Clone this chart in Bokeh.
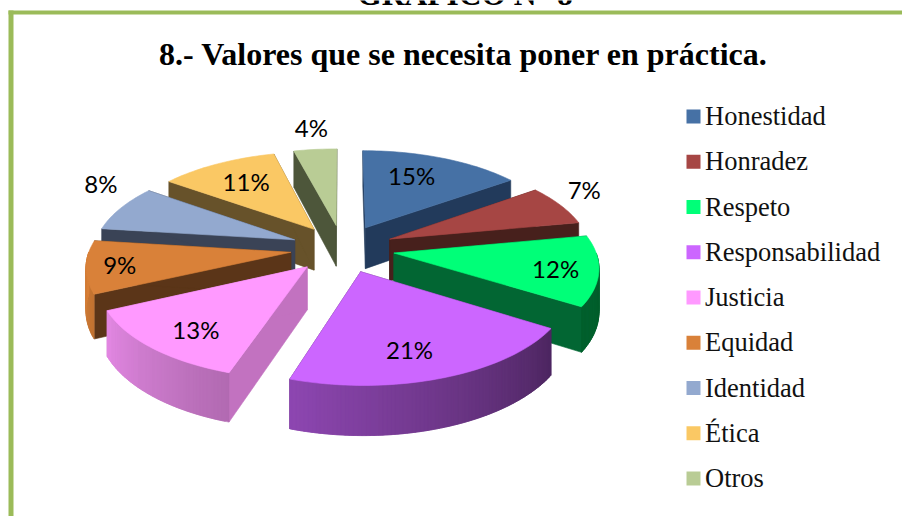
import math
from bokeh.plotting import figure
from bokeh.models import Range1d, ColumnDataSource
from bokeh.core.properties import value
from bokeh.embed import file_html
from bokeh.resources import INLINE

# ---- data ----
HEADING = "GRÁFICO N° 8"
TITLE = "8.- Valores que se necesita poner en práctica."
NAMES = ["Honestidad", "Honradez", "Respeto", "Responsabilidad", "Justicia",
         "Equidad", "Identidad", "Ética", "Otros"]
VALUES = [15, 7, 12, 21, 13, 9, 8, 11, 4]

# ---- styles ----
TOP_COLORS = ["#4671A5", "#A64644", "#00FF78", "#CC66FF", "#FF99FF",
              "#D98139", "#93A9CF", "#FAC864", "#B9CC95"]
WALL_COLORS = ["#223A5B", "#47201C", "#026633", "#4E2A66", "#C272C0",
               "#5B3518", "#3A4356", "#67522A", "#4D563A"]
DRAW_ORDER = [7, 8, 6, 5, 0, 1, 2, 4, 3]
LABEL_FRACTION = [0.69, 1.22, 0.79, 0.73, 0.745, 0.81, 1.24, 0.68, 1.31]
LABEL_TURN = [-3.6, -5.5, 1.0, 3.0, -3.0, 0.0, 10.7, 1.9, 1.2]

W, H = 902, 516
CX, CY = 342.0, 248.0
RADIUS, LABEL_RADIUS, EXPLODE, THICK = 201.0, 205.0, 52.0, 42.0
TILT, DEPTH = 0.4590, 1540.0
LABEL_NUDGE = -2.5
GREEN = "#9BBB59"


def project(theta, r, mid):
    a, m = math.radians(theta), math.radians(mid)
    x = r * math.sin(a) + EXPLODE * math.sin(m)
    z = r * math.cos(a) + EXPLODE * math.cos(m)
    s = 1.0 / (1.0 + z / DEPTH)
    return CX + x * s, CY - TILT * z * s, s


def shade(color, f):
    rgb = [int(color[i:i + 2], 16) for i in (1, 3, 5)]
    return "#%02x%02x%02x" % tuple(min(255, int(c * f)) for c in rgb)


def outer_factor(theta):
    return min(1.0, max(0.38, 0.38 + (theta - 122.0) * 0.62 / 148.0))


total = float(sum(VALUES))
starts, acc = [], 0.0
for v in VALUES:
    starts.append(acc / total * 360.0)
    acc += v
ends = [s + v / total * 360.0 for s, v in zip(starts, VALUES)]

xs, ys, cols = [], [], []


def add(px, py, c):
    xs.append(px)
    ys.append(py)
    cols.append(c)


for i in DRAW_ORDER:
    a0, a1 = starts[i], ends[i]
    mid = (a0 + a1) / 2.0
    ax, ay, asc = project(0, 0, mid)
    # cut faces
    for t in (a0, a1):
        px, py, ps = project(t, RADIUS, mid)
        add([ax, px, px, ax], [ay, py, py + THICK * ps, ay + THICK * asc], WALL_COLORS[i])
    # outer wall: overlapping shaded strips, each running a little under the next
    lo, hi = max(a0, 90.0), min(a1, 270.0)
    t = lo
    while t < hi:
        t2 = min(t + 1.0, hi)
        t3 = min(t + 2.0, hi)
        pts = [project(t + (t3 - t) * j / 3.0, RADIUS, mid) for j in range(4)]
        add([q[0] for q in pts] + [q[0] for q in reversed(pts)],
            [q[1] for q in pts] + [q[1] + THICK * q[2] for q in reversed(pts)],
            shade(TOP_COLORS[i], outer_factor(t)))
        t = t2
    # top
    n = max(2, int((a1 - a0) / 1.5))
    pts = [project(a0 + (a1 - a0) * j / n, RADIUS, mid) for j in range(n + 1)]
    add([ax] + [q[0] for q in pts], [ay] + [q[1] for q in pts], TOP_COLORS[i])

p = figure(width=W, height=H, x_range=Range1d(0, W), y_range=Range1d(H, 0),
           output_backend="svg", toolbar_location=None, min_border=0,
           outline_line_color=None, background_fill_color="white")
p.axis.visible = False
p.grid.visible = False
p.styles = {"position": "absolute", "left": "0px", "top": "0px"}

# frame
p.quad(left=[8, 8], right=[W, 13], top=[10, 10], bottom=[14, H], fill_color=GREEN, line_color=None)

# heading and title
p.text(x=[464.5], y=[-6.5], text=[HEADING], text_align="center", text_baseline="middle",
       text_font=value("Liberation Serif"), text_font_style="bold", text_font_size="31.5px", text_color="black")
p.text(x=[463], y=[53], text=[TITLE], text_align="center", text_baseline="middle",
       text_font=value("Liberation Serif"), text_font_style="bold", text_font_size="32px", text_color="black")

# pie
src = ColumnDataSource(dict(xs=xs, ys=ys, c=cols))
p.patches("xs", "ys", source=src, fill_color="c", line_color="c", line_width=0.6)

# percentage labels
lx, ly, lt = [], [], []
for i, v in enumerate(VALUES):
    mid = (starts[i] + ends[i]) / 2.0
    q = project(mid + LABEL_TURN[i], LABEL_RADIUS * LABEL_FRACTION[i], mid)
    lx.append(q[0] + LABEL_NUDGE)
    ly.append(q[1])
    lt.append("%d%%" % v)
p.text(x=lx, y=ly, text=lt, text_align="center", text_baseline="middle",
       text_font=value("Lato"), text_font_size="24px", text_color="black")

# legend
step = 45.25
ky = [116 + step * i for i in range(len(NAMES))]
p.rect(x=[693] * len(NAMES), y=ky, width=14, height=14, fill_color=TOP_COLORS, line_color=None)
p.text(x=[704.5] * len(NAMES), y=[k - 0.5 for k in ky], text=NAMES, text_align="left", text_baseline="middle",
       text_font=value("Liberation Serif"), text_font_size="26.5px", text_color="#111111")

open("out.html", "w").write(file_html(p, INLINE))
